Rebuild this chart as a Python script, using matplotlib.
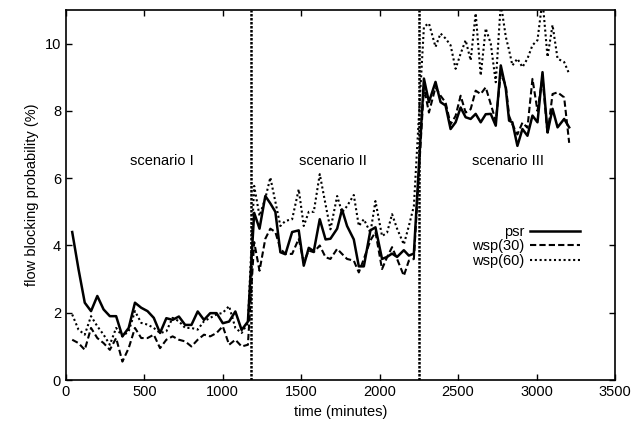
import matplotlib
matplotlib.use("Agg")
import matplotlib.pyplot as plt

plt.rcParams["font.family"] = ["Liberation Sans", "DejaVu Sans"]

# sample times (minutes), read per scenario
t_s1 = list(range(40, 1161, 40))
t_s2 = [1200, 1234, 1271, 1303, 1335, 1367, 1399, 1442, 1484, 1516, 1548, 1580,
        1618, 1655, 1686, 1729, 1760, 1792, 1835, 1867, 1899, 1941, 1973, 2015,
        2047, 2079, 2111, 2154, 2186, 2218]
t_s3 = [2282, 2314, 2356, 2388, 2420, 2452, 2484, 2516, 2548, 2580, 2612, 2644,
        2676, 2708, 2740, 2772, 2804, 2825, 2846, 2878, 2910, 2942, 2974, 3006,
        3038, 3070, 3102, 3134, 3176, 3208]

psr = [4.4, 3.3, 2.3, 2.05, 2.5, 2.1, 1.9, 1.9, 1.3, 1.55, 2.3, 2.15, 2.05, 1.85,
       1.4, 1.84, 1.79, 1.89, 1.64, 1.64, 2.04, 1.79, 1.99, 1.99, 1.69, 1.74, 2.04,
       1.49, 1.74,
       4.97, 4.5, 5.47, 5.25, 5.0, 3.8, 3.74, 4.4, 4.45, 3.4, 3.93, 3.83, 4.78, 4.18,
       4.2, 4.5, 5.07, 4.58, 4.18, 3.38, 3.38, 4.45, 4.54, 3.6, 3.66, 3.76, 3.66,
       3.86, 3.7, 3.76,
       8.96, 8.26, 8.86, 8.26, 8.16, 7.46, 7.66, 8.1, 7.81, 7.76, 7.91, 7.66, 7.9,
       7.91, 7.56, 9.35, 8.66, 7.71, 7.66, 6.96, 7.46, 7.26, 7.86, 7.66, 9.15, 7.36,
       8.06, 7.51, 7.76, 7.51]

wsp30 = [1.2, 1.1, 0.9, 1.55, 1.25, 1.1, 0.9, 1.25, 0.55, 0.95, 1.55, 1.25, 1.25,
         1.35, 0.95, 1.2, 1.3, 1.2, 1.15, 1.0, 1.2, 1.35, 1.3, 1.4, 1.6, 1.05, 1.2,
         1.0, 1.05,
         4.1, 3.25, 4.2, 4.5, 4.4, 3.9, 3.75, 3.75, 4.2, 3.5, 3.85, 3.8, 4.0, 3.65,
         3.6, 3.9, 3.75, 3.6, 3.55, 3.2, 3.6, 4.15, 4.4, 3.3, 3.65, 3.95, 3.6, 3.1,
         3.55, 3.6,
         8.7, 7.95, 8.7, 8.45, 8.25, 7.6, 7.85, 8.45, 7.95, 8.05, 8.6, 8.5, 8.7, 8.2,
         7.7, 9.1, 8.75, 7.85, 7.6, 7.3, 7.65, 7.5, 8.95, 8.0, 9.0, 7.3, 8.5, 8.55,
         8.4, 7.05]

wsp60 = [1.95, 1.5, 1.35, 1.9, 1.6, 1.35, 1.05, 1.55, 1.3, 1.45, 2.05, 1.7, 1.65,
         1.55, 1.4, 1.45, 1.85, 1.75, 1.55, 1.55, 1.5, 1.75, 1.85, 1.95, 2.0, 2.2,
         1.55, 1.4, 1.7,
         5.77, 4.88, 5.4, 6.02, 5.3, 4.58, 4.73, 4.78, 5.67, 4.58, 5.0, 5.0, 6.12,
         5.22, 4.48, 5.47, 4.98, 5.17, 5.5, 4.58, 4.78, 4.38, 5.32, 4.28, 4.38, 4.93,
         4.5, 4.03, 4.58, 5.17,
         10.5, 10.6, 9.9, 10.3, 10.15, 9.95, 9.25, 9.7, 10.1, 9.5, 10.9, 9.05, 10.45,
         10.0, 8.85, 11.2, 10.2, 9.8, 9.35, 9.55, 9.3, 9.55, 9.95, 10.1, 11.3, 9.6,
         10.55, 9.55, 9.45, 9.1]

scenario_changes = [1180, 2250]
scenario_labels = ["scenario I", "scenario II", "scenario III"]
scenario_label_x = [610, 1705, 2815]

t = t_s1 + t_s2 + t_s3

fig = plt.figure(figsize=(6.34, 4.30), dpi=100)
ax = fig.add_axes([0.104, 0.116, 0.866, 0.861])

ax.plot(t, psr, color="black", lw=1.8, ls="-", label="psr")
ax.plot(t, wsp30, color="black", lw=1.5, ls=(0, (3, 1.5)), label="wsp(30)")
ax.plot(t, wsp60, color="black", lw=1.5, ls=(0, (1, 1.3)), label="wsp(60)")

for xc in scenario_changes:
    ax.axvline(xc, color="black", lw=1.8, ls=(0, (1, 0.6)))

for xl, lab in zip(scenario_label_x, scenario_labels):
    ax.text(xl, 6.5, lab, ha="center", va="center", fontsize=10.5)

ax.set_xlim(0, 3500)
ax.set_ylim(0, 11)
ax.set_xticks(range(0, 3501, 500))
ax.set_yticks(range(0, 11, 2))
ax.tick_params(direction="in", top=True, right=True, length=4, width=1,
               labelsize=10.5)
for s in ax.spines.values():
    s.set_linewidth(1.2)

ax.set_xlabel("time (minutes)", fontsize=10.5)
ax.set_ylabel("flow blocking probability (%)", fontsize=10.5)

ax.legend(loc="upper right", bbox_to_anchor=(0.936, 0.42), frameon=False,
          markerfirst=False, handlelength=3.4, labelspacing=0.05,
          handletextpad=0.4, borderaxespad=0, borderpad=0, fontsize=10.5)

fig.savefig("out.png", dpi=100)
